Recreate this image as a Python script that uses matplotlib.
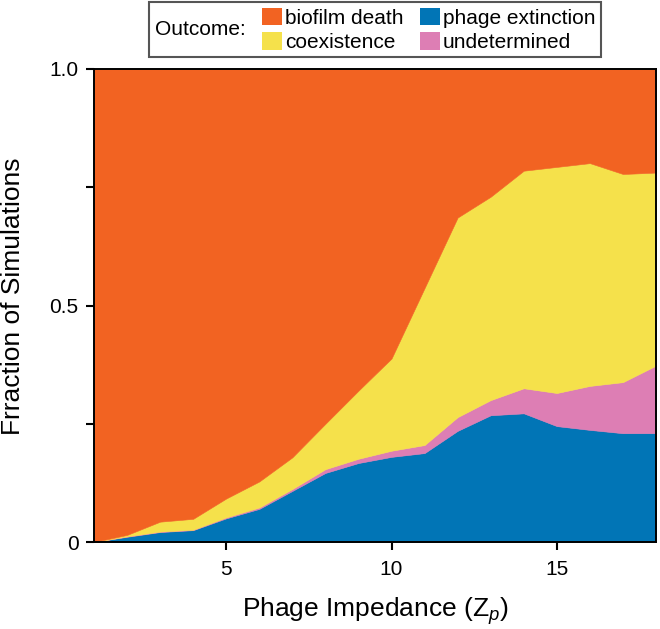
import matplotlib
matplotlib.use("Agg")
import matplotlib.pyplot as plt
from matplotlib.patches import Patch
from matplotlib.offsetbox import HPacker

plt.rcParams['font.family'] = ['Liberation Sans', 'DejaVu Sans']
plt.rcParams['mathtext.fontset'] = 'custom'
plt.rcParams['mathtext.rm'] = 'Liberation Sans'
plt.rcParams['mathtext.it'] = 'Liberation Sans:italic'

# Data: fraction of simulations per outcome vs phage impedance
impedance = list(range(1, 19))
phage_extinction = [0.000, 0.011, 0.021, 0.025, 0.050, 0.070, 0.108, 0.146, 0.167,
                    0.180, 0.188, 0.235, 0.268, 0.272, 0.245, 0.237, 0.230, 0.230]
undetermined = [0.000, 0.001, 0.001, 0.001, 0.002, 0.003, 0.004, 0.008, 0.009,
                0.013, 0.017, 0.029, 0.032, 0.053, 0.070, 0.093, 0.108, 0.143]
coexistence = [0.000, 0.003, 0.021, 0.023, 0.040, 0.055, 0.067, 0.096, 0.144,
               0.195, 0.332, 0.422, 0.430, 0.460, 0.478, 0.471, 0.440, 0.408]
biofilm_death = [1.000, 0.985, 0.957, 0.951, 0.908, 0.872, 0.821, 0.750, 0.680,
                 0.612, 0.463, 0.314, 0.270, 0.215, 0.207, 0.199, 0.222, 0.219]

outcome_labels = ['biofilm death', 'coexistence', 'phage extinction', 'undetermined']
c_orange = '#F26322'
c_yellow = '#F5E14B'
c_blue = '#0175B6'
c_pink = '#DD7EB4'

fig = plt.figure(figsize=(6.6, 6.29), dpi=100)
ax = fig.add_axes([94 / 660, 1 - 542 / 629, (656 - 94) / 660, (542 - 69) / 629])

polys = ax.stackplot(impedance, phage_extinction, undetermined, coexistence, biofilm_death,
                     colors=[c_blue, c_pink, c_yellow, c_orange])
for p in polys:
    p.set_edgecolor('face')
    p.set_linewidth(0.4)

ax.set_xlim(1, 18)
ax.set_ylim(0, 1)
ax.set_xticks([5, 10, 15])
ax.set_yticks([0, 0.5, 1.0])
ax.set_yticklabels(['0', '0.5', '1.0'])
ax.set_yticks([0.25, 0.75], minor=True)
ax.tick_params(axis='both', which='both', direction='out', length=6, width=1.5,
               labelsize=15, color='black')
ax.tick_params(axis='x', pad=7)
ax.tick_params(axis='y', pad=5)
for s in ax.spines.values():
    s.set_linewidth(1.4)
    s.set_color('black')

ax.set_xlabel('Phage Impedance (Z$_{\\mathit{p}}$)', fontsize=19)
ax.set_ylabel('Frraction of Simulations', fontsize=19)
ax.xaxis.set_label_coords(0.5, -0.112)
ax.yaxis.set_label_coords(-0.122, 0.52)

handles = [Patch(facecolor=c_orange, edgecolor='none'),
           Patch(facecolor=c_yellow, edgecolor='none'),
           Patch(facecolor=c_blue, edgecolor='none'),
           Patch(facecolor=c_pink, edgecolor='none')]
leg = ax.legend(handles, outcome_labels, ncol=2, title='Outcome:',
                loc='upper center', bbox_to_anchor=(0.5, 1.141),
                frameon=True, fancybox=False, edgecolor='#555555', framealpha=1,
                fontsize=15, title_fontsize=15, handlelength=0.95, handleheight=0.95,
                handletextpad=0.15, columnspacing=0.8, labelspacing=0.2,
                borderpad=0.25, borderaxespad=0)
leg.get_frame().set_linewidth(1.5)
try:
    newbox = HPacker(pad=leg._legend_box.pad, sep=12, align='center',
                     children=[leg._legend_title_box, leg._legend_handle_box])
    newbox.set_figure(fig)
    newbox.axes = ax
    leg._legend_box = newbox
    leg._legend_box.set_offset(leg._findoffset)
except Exception:
    pass

fig.savefig('out.png', dpi=100)
